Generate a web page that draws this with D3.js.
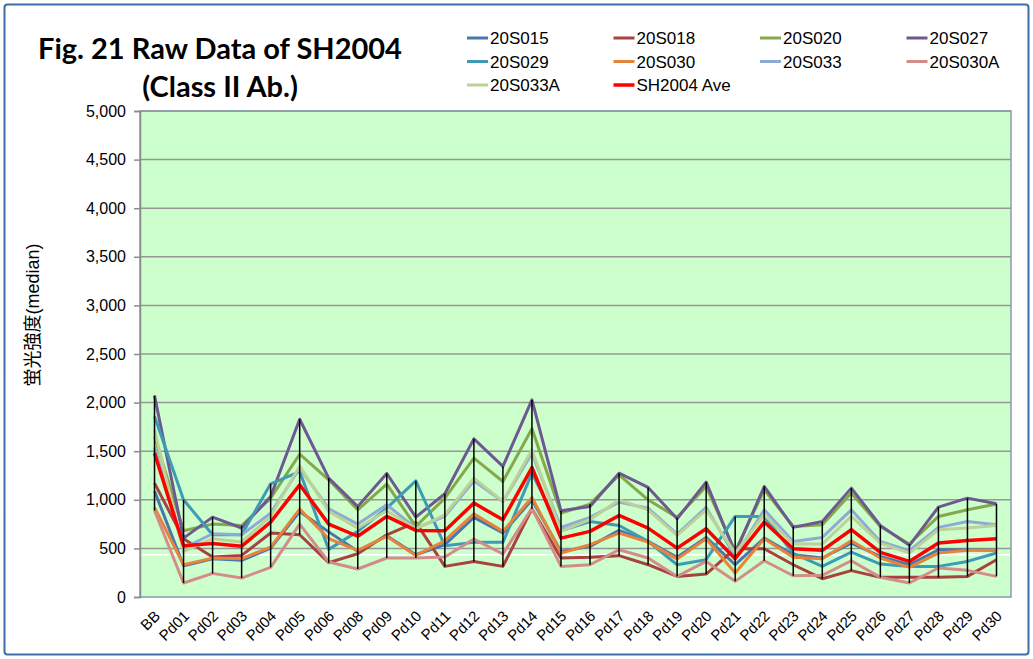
<!DOCTYPE html>
<html>
<head>
<meta charset="utf-8">
<script src="https://cdn.jsdelivr.net/npm/d3@7"></script>
<style>
  body { margin: 0; background: #fff; }
  .tick text { font-family: "Liberation Sans", Arial, sans-serif; fill: #000; }
</style>
</head>
<body>
<script>
// Fig. 21 raw data line chart

// categories along x
var categories = ["BB", "Pd01", "Pd02", "Pd03", "Pd04", "Pd05", "Pd06", "Pd08", "Pd09", "Pd10",
  "Pd11", "Pd12", "Pd13", "Pd14", "Pd15", "Pd16", "Pd17", "Pd18", "Pd19", "Pd20",
  "Pd21", "Pd22", "Pd23", "Pd24", "Pd25", "Pd26", "Pd27", "Pd28", "Pd29", "Pd30"];

// series values
var s20S015 = [1090, 322, 394, 377, 503, 880, 670, 470, 630, 435, 538, 819, 658, 1000, 469, 521, 685, 572, 408, 613, 332, 606, 435, 401, 555, 418, 332, 486, 486, 480];
var s20S018 = [1171, 600, 411, 428, 658, 640, 353, 445, 640, 767, 315, 366, 315, 908, 401, 408, 425, 332, 212, 236, 497, 497, 332, 188, 271, 202, 202, 202, 212, 384];
var s20S020 = [1650, 682, 750, 735, 1017, 1469, 1206, 897, 1161, 726, 1017, 1428, 1188, 1730, 863, 956, 1257, 1000, 819, 1137, 469, 1103, 726, 743, 1069, 726, 545, 829, 897, 956];
var s20S027 = [2072, 606, 822, 710, 1034, 1829, 1223, 930, 1271, 822, 1062, 1627, 1343, 2028, 887, 932, 1274, 1127, 805, 1182, 452, 1137, 716, 777, 1120, 736, 531, 925, 1017, 959];
var s20S029 = [1856, 1000, 640, 640, 1164, 1291, 490, 675, 914, 1195, 527, 562, 562, 1274, 682, 777, 736, 572, 332, 384, 829, 829, 450, 315, 462, 339, 315, 315, 366, 452];
var s20S030 = [921, 332, 400, 394, 514, 904, 600, 480, 623, 428, 579, 856, 675, 1024, 452, 538, 658, 565, 390, 599, 247, 599, 408, 394, 579, 401, 305, 452, 480, 480];
var s20S033 = [1538, 503, 651, 640, 863, 1325, 908, 750, 949, 709, 829, 1195, 983, 1480, 716, 819, 976, 914, 647, 921, 418, 897, 572, 613, 897, 572, 476, 716, 777, 743];
var s20S030A = [887, 144, 243, 195, 305, 750, 360, 288, 401, 401, 411, 596, 442, 914, 315, 332, 486, 401, 212, 366, 161, 373, 219, 223, 373, 202, 144, 298, 274, 212];
var s20S033A = [1719, 469, 600, 565, 829, 1349, 880, 709, 887, 702, 846, 1223, 983, 1514, 675, 795, 1000, 897, 634, 897, 452, 846, 545, 545, 829, 555, 452, 692, 709, 736];
var sAve = [1480, 527, 551, 521, 771, 1154, 750, 625, 829, 685, 682, 966, 795, 1332, 606, 675, 839, 709, 503, 702, 394, 771, 497, 480, 692, 459, 366, 555, 582, 599];

var seriesNames = ["20S015", "20S018", "20S020", "20S027", "20S029", "20S030", "20S033", "20S030A", "20S033A", "SH2004 Ave"];
var seriesValues = [s20S015, s20S018, s20S020, s20S027, s20S029, s20S030, s20S033, s20S030A, s20S033A, sAve];
var seriesColors = ["#4a76ae", "#a8423f", "#84a84a", "#6e5891", "#3f9bb5", "#e5843a", "#8eabd6", "#d48c8a", "#bcd296", "#ff0000"];

// y ticks and the white cut-off line
var yTicks = [0, 500, 1000, 1500, 2000, 2500, 3000, 3500, 4000, 4500, 5000];
var cutoff = 435;

var W = 1033, H = 659;
var plot = {left: 140, top: 111, right: 1011, bottom: 597};

var svg = d3.select("body").append("svg")
    .attr("width", W)
    .attr("height", H);

// outer chart frame
svg.append("rect")
    .attr("x", 4.5).attr("y", 4.5)
    .attr("width", W - 9).attr("height", H - 9)
    .attr("rx", 3)
    .attr("fill", "#fff")
    .attr("stroke", "#3f6ea8")
    .attr("stroke-width", 2);

var xScale = d3.scalePoint()
    .domain(categories)
    .range([plot.left, plot.right])
    .padding(0.5);

var yScale = d3.scaleLinear()
    .domain([0, 5000])
    .range([plot.bottom, plot.top]);

// plot background
svg.append("rect")
    .attr("x", plot.left).attr("y", plot.top)
    .attr("width", plot.right - plot.left)
    .attr("height", plot.bottom - plot.top)
    .attr("fill", "#ccffcc");

// gridlines
svg.append("g")
    .selectAll("line")
    .data(yTicks.slice(1))
    .enter().append("line")
    .attr("x1", plot.left).attr("x2", plot.right)
    .attr("y1", function(d) { return yScale(d); })
    .attr("y2", function(d) { return yScale(d); })
    .attr("stroke", "#969696")
    .attr("stroke-width", 1.5);

// plot border
svg.append("rect")
    .attr("x", plot.left).attr("y", plot.top)
    .attr("width", plot.right - plot.left)
    .attr("height", plot.bottom - plot.top)
    .attr("fill", "none")
    .attr("stroke", "#8a9aa8")
    .attr("stroke-width", 1.5);

// white cut-off line
svg.append("line")
    .attr("x1", plot.left + 1).attr("x2", plot.right - 1)
    .attr("y1", yScale(cutoff)).attr("y2", yScale(cutoff))
    .attr("stroke", "#fff")
    .attr("stroke-width", 1.5);

// y axis
var yAxis = d3.axisLeft(yScale)
    .tickValues(yTicks)
    .tickSize(6)
    .tickPadding(8)
    .tickFormat(d3.format(","));

var yg = svg.append("g")
    .attr("transform", "translate(" + plot.left + ",0)")
    .call(yAxis);
yg.select(".domain").attr("stroke", "#8c8c8c").attr("stroke-width", 1.5);
yg.selectAll(".tick line").attr("stroke", "#8c8c8c").attr("stroke-width", 1.5);
yg.selectAll(".tick text").attr("font-size", 16);

// x axis labels, rotated
var xg = svg.append("g")
    .attr("transform", "translate(0," + plot.bottom + ")")
    .call(d3.axisBottom(xScale).tickSize(0).tickPadding(0));
xg.select(".domain").remove();
xg.selectAll(".tick text")
    .attr("font-size", 15)
    .attr("text-anchor", "end")
    .attr("dy", 0)
    .attr("transform", "translate(6,20) rotate(-45)");

// series lines
var line = d3.line()
    .x(function(d, i) { return xScale(categories[i]); })
    .y(function(d) { return yScale(d); });

svg.append("g")
    .selectAll("path")
    .data(seriesValues)
    .enter().append("path")
    .attr("d", line)
    .attr("fill", "none")
    .attr("stroke", function(d, i) { return seriesColors[i]; })
    .attr("stroke-width", function(d, i) { return i == 9 ? 3.5 : 3; })
    .attr("stroke-linejoin", "round");

// high-low lines
svg.append("g")
    .selectAll("line")
    .data(categories)
    .enter().append("line")
    .attr("x1", function(d) { return xScale(d); })
    .attr("x2", function(d) { return xScale(d); })
    .attr("y1", function(d, i) { return yScale(d3.max(seriesValues, function(s) { return s[i]; })); })
    .attr("y2", function(d, i) { return yScale(d3.min(seriesValues, function(s) { return s[i]; })); })
    .attr("stroke", "#000")
    .attr("stroke-width", 1.5);

// title
var title = svg.append("text")
    .attr("x", 220)
    .attr("text-anchor", "middle")
    .attr("font-family", "Lato, sans-serif")
    .attr("font-weight", "bold")
    .attr("font-size", 29);
title.append("tspan").attr("x", 220).attr("y", 59).text("Fig. 21 Raw Data of SH2004");
title.append("tspan").attr("x", 220).attr("y", 97).text("(Class II Ab.)");

// y axis title
svg.append("text")
    .attr("transform", "translate(39,315) rotate(-90)")
    .attr("text-anchor", "middle")
    .attr("font-family", "'Liberation Sans', 'Noto Sans CJK JP', sans-serif")
    .attr("font-size", 18)
    .text("蛍光強度(median)");

// legend
var legend = svg.append("g")
    .selectAll("g")
    .data(seriesNames)
    .enter().append("g")
    .attr("transform", function(d, i) {
        return "translate(" + (467 + (i % 4) * 146.5) + "," + (38 + Math.floor(i / 4) * 23.5) + ")";
    });

legend.append("line")
    .attr("x1", 0).attr("x2", 21)
    .attr("stroke", function(d, i) { return seriesColors[i]; })
    .attr("stroke-width", function(d, i) { return i == 9 ? 3.5 : 3; });

legend.append("text")
    .attr("x", 23)
    .attr("dy", "0.36em")
    .attr("font-family", "'Liberation Sans', Arial, sans-serif")
    .attr("font-size", 17)
    .text(function(d) { return d; });
</script>
</body>
</html>
